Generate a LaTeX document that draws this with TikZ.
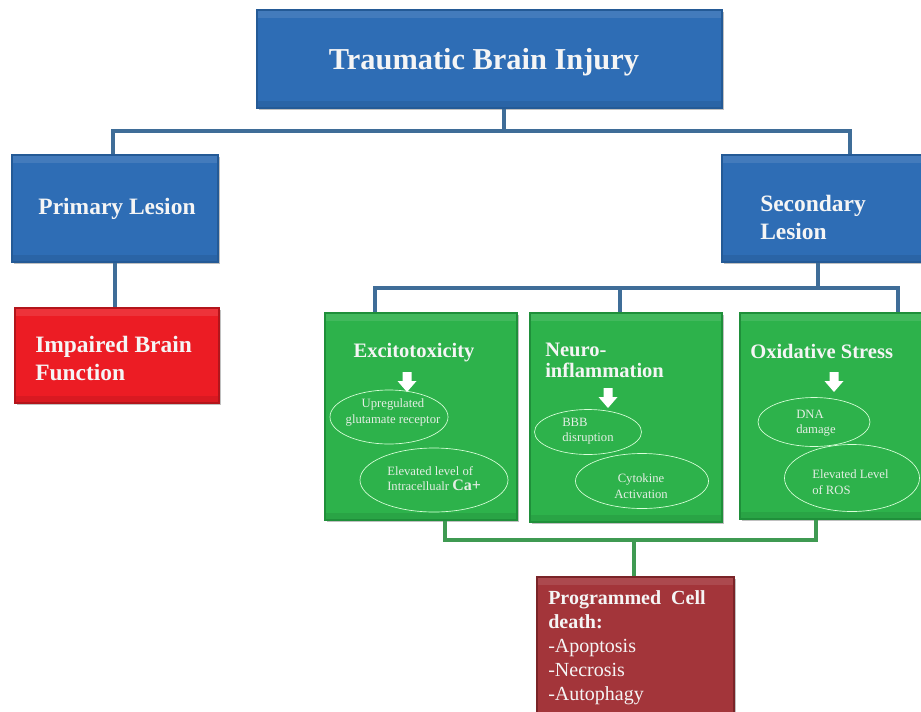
\documentclass[tikz,border=0pt]{standalone}
\usepackage{fontspec}
\setmainfont{Liberation Serif}
\usetikzlibrary{fit,shadows,shapes.geometric}
\definecolor{tbiblue}{HTML}{2E6DB5}
\definecolor{blueedge}{HTML}{245A96}
\definecolor{boxgreen}{HTML}{2DB24B}
\definecolor{greenedge}{HTML}{1F8F3A}
\definecolor{boxred}{HTML}{EC1C24}
\definecolor{rededge}{HTML}{B3151B}
\definecolor{darkred}{HTML}{A3353A}
\definecolor{darkrededge}{HTML}{7A2428}
\definecolor{blueline}{HTML}{3F6D98}
\definecolor{greenline}{HTML}{3F9A52}
\definecolor{txt}{HTML}{F5F5F5}
\definecolor{etxt}{HTML}{E4EEE4}
\tikzset{
  box/.style={inner sep=0pt, line width=0.8pt,
    drop shadow={shadow xshift=1.5pt, shadow yshift=-1.5pt, opacity=0.35, fill=black!70},
    path picture={
      \fill[white,opacity=0.10] (path picture bounding box.north west) rectangle ([yshift=-6pt]path picture bounding box.north east);
      \fill[black,opacity=0.08] (path picture bounding box.south west) rectangle ([yshift=5pt]path picture bounding box.south east);
    }},
  bluebox/.style={box, fill=tbiblue, draw=blueedge},
  greenbox/.style={box, fill=boxgreen, draw=greenedge},
  redbox/.style={box, fill=boxred, draw=rededge},
  dredbox/.style={box, fill=darkred, draw=darkrededge},
  oval/.style={ellipse, draw=white!85!green, line width=0.5pt, inner sep=0pt},
  lbl/.style={text=txt, inner sep=0pt, align=left},
  elbl/.style={text=etxt, inner sep=0pt, font=\fontsize{9.5}{11.5}\selectfont},
  bline/.style={draw=blueline, line width=2.4pt},
  gline/.style={draw=greenline, line width=2.4pt},
  warrow/.pic={\fill[white] (-4.5,0) -- (4.5,0) -- (4.5,9) -- (9.5,9) -- (0,20) -- (-9.5,9) -- (-4.5,9) -- cycle;}
}
\begin{document}
\begin{tikzpicture}[x=0.75pt,y=-0.75pt]
\useasboundingbox[fill=white] (0,0) rectangle (921,711);

% boxes
\node[bluebox, fit={(257,10) (722,108)}] (tbi) {};
\node[bluebox, fit={(12,155) (218,262)}] (prim) {};
\node[bluebox, fit={(722,155) (960,262)}] (sec) {};
\node[redbox, fit={(15,308) (219,403)}] (imp) {};
\node[greenbox, fit={(325,313) (517,520)}] (exc) {};
\node[greenbox, fit={(530,313) (722,522)}] (neu) {};
\node[greenbox, fit={(740,313) (960,519)}] (oxi) {};
\node[dredbox, fit={(537,577) (734,730)}] (pcd) {};

% connectors
\coordinate (j1) at (504,131);
\coordinate (jl) at (113,131);
\coordinate (jr) at (850,131);
\draw[bline] (tbi.south -| j1) -- (j1);
\draw[bline] (jl |- prim.north) -- (jl) -- (jr) -- (jr |- sec.north);
\draw[bline] (prim.south) -- (prim.south |- imp.north);
\coordinate (k1) at (818,288);
\coordinate (ka) at (375,288);
\coordinate (kb) at (620,288);
\coordinate (kc) at (898,288);
\draw[bline] (sec.south -| k1) -- (k1);
\draw[bline] (ka |- exc.north) -- (ka) -- (kc) -- (kc |- oxi.north);
\draw[bline] (kb) -- (kb |- neu.north);
\coordinate (m1) at (445,540);
\coordinate (m2) at (816,540);
\coordinate (m3) at (634,540);
\draw[gline] (exc.south -| m1) -- (m1) -- (m2) -- (oxi.south -| m2);
\draw[gline] (m3) -- (m3 |- pcd.north);

% box texts
\node[lbl, anchor=base, font=\bfseries\fontsize{22.8}{26}\selectfont] (tbit) at (484,69) {Traumatic Brain Injury};
\node[lbl, anchor=base, font=\bfseries\fontsize{17.6}{21}\selectfont] (primt) at (117,214) {Primary Lesion};
\node[lbl, anchor=west, font=\bfseries\fontsize{17.6}{21}\selectfont] (impt) at (35,358) {Impaired Brain\\Function};
\node[lbl, anchor=west, font=\bfseries\fontsize{17.6}{21}\selectfont] (sect) at (760,217) {Secondary\\Lesion};
\node[lbl, anchor=base, font=\bfseries\fontsize{15.4}{16}\selectfont] (exct) at (414,357) {Excitotoxicity};
\node[lbl, anchor=west, font=\bfseries\fontsize{15.4}{15.8}\selectfont] (neut) at (545,360.5) {Neuro-\\inflammation};
\node[lbl, anchor=base west, font=\bfseries\fontsize{15.4}{16}\selectfont] (oxit) at (750,358) {Oxidative Stress};
\node[lbl, anchor=west, font=\fontsize{15}{18}\selectfont] (pcdt) at (548,648) {\textbf{Programmed\ \ Cell}\\\textbf{death:}\\-Apoptosis\\-Necrosis\\-Autophagy};

% arrows
\pic at (407,372) {warrow};
\pic at (608,388) {warrow};
\pic at (834,372) {warrow};

% ellipses
\node[oval, minimum width=88.5pt, minimum height=40.5pt] (e1) at (389,417) {};
\node[oval, minimum width=111pt, minimum height=48pt] (e2) at (434,480) {};
\node[oval, minimum width=80.25pt, minimum height=33.75pt] (e3) at (588,432) {};
\node[oval, minimum width=99.75pt, minimum height=41.25pt] (e4) at (642,481) {};
\node[oval, minimum width=84pt, minimum height=36.75pt] (e5) at (814,422) {};
\node[oval, minimum width=101.25pt, minimum height=50.25pt] (e6) at (852,478) {};

% ellipse texts
\node[elbl, align=center] (e1t) at (393,412.5) {Upregulated\\glutamate receptor};
\node[elbl, align=left, anchor=west] (e2t) at (387,478.5) {Elevated level of\\Intracellualr {\bfseries\fontsize{12}{12}\selectfont Ca+}};
\node[elbl, align=left, anchor=west] (e3t) at (562,431.5) {BBB\\disruption};
\node[elbl, align=center] (e4t) at (641,486) {Cytokine\\Activation};
\node[elbl, align=left, anchor=west] (e5t) at (796,423) {DNA\\damage};
\node[elbl, align=left, anchor=west] (e6t) at (812,482) {Elevated Level\\of ROS};
\end{tikzpicture}
\end{document}
